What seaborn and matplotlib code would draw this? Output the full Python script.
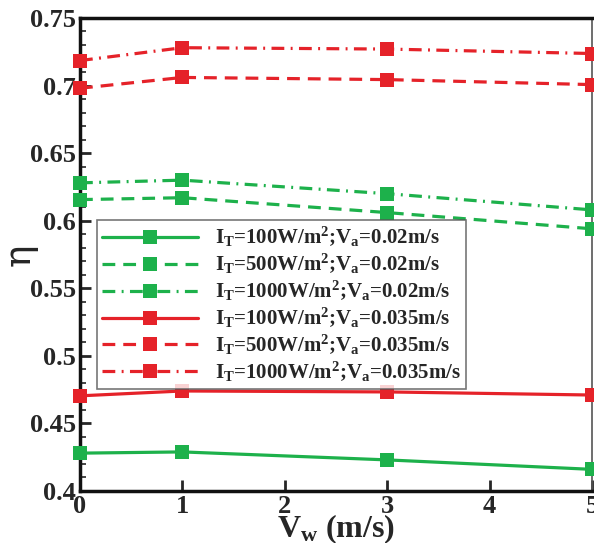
import numpy as np
import pandas as pd
import matplotlib
matplotlib.use("Agg")
import matplotlib.pyplot as plt
import seaborn as sns
from matplotlib.ticker import MultipleLocator

sns.set_theme(style="white")
plt.rcParams['font.family'] = ['Liberation Serif', 'DejaVu Serif']
plt.rcParams['font.weight'] = 'bold'
plt.rcParams['mathtext.fontset'] = 'custom'
plt.rcParams['mathtext.rm'] = 'Liberation Serif:bold'
plt.rcParams['mathtext.it'] = 'Liberation Serif:bold'
plt.rcParams['mathtext.bf'] = 'Liberation Serif:bold'

vw = [0, 1, 3, 5]
g100 = [0.428, 0.4289, 0.423, 0.416]
g500 = [0.6156, 0.617, 0.606, 0.594]
g1000 = [0.628, 0.630, 0.620, 0.608]
r100 = [0.4704, 0.474, 0.4733, 0.471]
r500 = [0.698, 0.706, 0.7044, 0.7007]
r1000 = [0.7185, 0.728, 0.727, 0.7237]

labels = [
    r'I$_\mathregular{T}$=100W/m$^\mathregular{2}$;V$_\mathregular{a}$=0.02m/s',
    r'I$_\mathregular{T}$=500W/m$^\mathregular{2}$;V$_\mathregular{a}$=0.02m/s',
    r'I$_\mathregular{T}$=1000W/m$^\mathregular{2}$;V$_\mathregular{a}$=0.02m/s',
    r'I$_\mathregular{T}$=100W/m$^\mathregular{2}$;V$_\mathregular{a}$=0.035m/s',
    r'I$_\mathregular{T}$=500W/m$^\mathregular{2}$;V$_\mathregular{a}$=0.035m/s',
    r'I$_\mathregular{T}$=1000W/m$^\mathregular{2}$;V$_\mathregular{a}$=0.035m/s',
]
series = [g100, g500, g1000, r100, r500, r1000]
green = '#1db14b'
red = '#e52229'
colors = [green, green, green, red, red, red]
styles = ['-', (0, (4, 2.5)), (0, (4, 2, 0.6, 2)), '-', (0, (4, 2.5)), (0, (4, 2, 0.6, 2))]

fig = plt.figure(figsize=(5.94, 5.43), dpi=100)
ax = fig.add_axes([0.1347, 0.0958, 0.8619, 0.8711])

for lab, vals, c, ls in zip(labels, series, colors, styles):
    df = pd.DataFrame({'Vw': vw, 'eta': vals})
    sns.lineplot(data=df, x='Vw', y='eta', ax=ax, color=c, linestyle=ls,
                 linewidth=2.3, marker='s', markersize=10, markeredgewidth=0,
                 label=lab, clip_on=False, zorder=3)

ax.set_xlim(0, 5)
ax.set_ylim(0.4, 0.75)
ax.xaxis.set_major_locator(MultipleLocator(1))
ax.yaxis.set_minor_locator(MultipleLocator(0.01))
ax.set_yticks([0.4, 0.45, 0.5, 0.55, 0.6, 0.65, 0.7, 0.75])
ax.set_yticklabels(['0.4', '0.45', '0.5', '0.55', '0.6', '0.65', '0.7', '0.75'])
ax.tick_params(axis='both', which='major', direction='in', length=8, width=2,
               labelsize=19, pad=3, left=True, bottom=True)
ax.tick_params(axis='y', which='minor', direction='in', length=4, width=1.2, left=True)
for lbl in ax.get_xticklabels() + ax.get_yticklabels():
    lbl.set_fontweight('bold')
for side in ['left', 'bottom', 'top']:
    ax.spines[side].set_linewidth(2.5)
    ax.spines[side].set_color('#111111')
ax.spines['right'].set_linewidth(1.2)
ax.spines['right'].set_color('#555555')

ax.set_xlabel(r'V$_\mathregular{w}$ (m/s)', fontsize=23, fontweight='bold')
ax.xaxis.set_label_coords(0.5, -0.045, transform=ax.transAxes)
ax.xaxis.label.set_va('top')
ax.set_ylabel('η', fontsize=27, fontweight='normal', family=['DejaVu Serif'],
              rotation=90, ha='center', va='center')
ax.yaxis.set_label_coords(-0.117, 0.499)

leg = ax.legend(loc='upper left', bbox_to_anchor=(0.033, 0.573),
                frameon=True, fancybox=False, edgecolor='#555555',
                handlelength=4.6, handletextpad=0.8, borderpad=0.25,
                labelspacing=0.13, borderaxespad=0,
                prop={'weight': 'bold', 'size': 15})
leg.get_frame().set_linewidth(1.2)

fig.savefig('out.png', dpi=100)
